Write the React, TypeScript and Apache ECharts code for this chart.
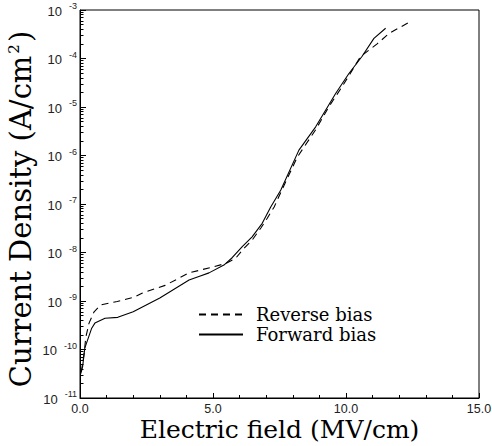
import React, { useEffect, useRef } from "react";
import * as echarts from "echarts";

const fieldReverse = [0.05, 0.15, 0.22, 0.34, 0.53, 0.78, 1.4, 2.03, 2.33, 3.2, 4.1, 4.97, 5.5, 5.85, 6.17, 6.47, 6.8, 7.04, 7.3, 7.6, 8.17, 8.86, 9.36, 9.85, 10.55, 11.17, 11.62, 12.43];
const currentReverse = [3.5e-11, 7.9e-11, 1.8e-10, 3.5e-10, 6.0e-10, 8.3e-10, 9.8e-10, 1.2e-9, 1.45e-9, 2.1e-9, 3.8e-9, 5.0e-9, 6.0e-9, 7.6e-9, 1.23e-8, 1.8e-8, 3.2e-8, 5.1e-8, 8.7e-8, 2.0e-7, 9.3e-7, 3.4e-6, 1.02e-5, 2.6e-5, 1.1e-4, 2.0e-4, 3.3e-4, 5.8e-4];

const fieldForward = [0.03, 0.1, 0.18, 0.44, 0.56, 0.94, 1.42, 2.0, 3.0, 4.1, 4.47, 4.85, 5.41, 5.72, 6.1, 6.47, 6.85, 7.17, 7.55, 8.23, 8.86, 9.61, 10.11, 10.6, 11.05, 11.49];
const currentForward = [3.2e-11, 4.5e-11, 1.07e-10, 2.75e-10, 3.5e-10, 4.4e-10, 4.6e-10, 6.0e-10, 1.15e-9, 2.7e-9, 3.2e-9, 3.8e-9, 5.5e-9, 7.8e-9, 1.32e-8, 2.1e-8, 4.0e-8, 8.7e-8, 1.95e-7, 1.29e-6, 3.9e-6, 1.9e-5, 4.9e-5, 1.1e-4, 2.6e-4, 4.2e-4];

const xTickLabels = ["0.0", "5.0", "10.0", "15.0"];
const yDecadeExponents = [-11, -10, -9, -8, -7, -6, -5, -4, -3];
const seriesNames = ["Reverse bias", "Forward bias"];

const minorYTicks: number[] = [];
for (let e = -11; e < -3; e++) {
  for (let m = 2; m <= 9; m++) minorYTicks.push(m * Math.pow(10, e));
}

export default function App() {
  const ref = useRef<HTMLDivElement>(null);
  useEffect(() => {
    if (!ref.current) return;
    const chart = echarts.init(ref.current, null, { renderer: "svg" });
    const serif = "DejaVu Serif";
    const sans = "Liberation Sans";
    chart.setOption({
      animation: false,
      backgroundColor: "#fff",
      grid: {
        left: 80,
        right: 13,
        top: 10,
        bottom: 48,
        show: true,
        borderColor: "#000",
        borderWidth: 1,
        containLabel: false,
        outerBoundsMode: "none",
      },
      legend: {
        orient: "vertical",
        left: 193,
        top: 300,
        itemWidth: 44,
        itemHeight: 12,
        itemGap: 1,
        data: seriesNames,
        itemStyle: { opacity: 0 },
        textStyle: {
          fontFamily: serif,
          fontSize: 18,
          lineHeight: 19,
          color: "#000",
          padding: [0, 0, 0, 8],
        },
      },
      xAxis: {
        type: "value",
        min: 0,
        max: 15,
        interval: 5,
        position: "bottom",
        name: "Electric field (MV/cm)",
        nameLocation: "middle",
        nameGap: 19,
        nameMoveOverlap: false,
        nameTextStyle: { fontFamily: serif, fontSize: 25, lineHeight: 25, color: "#000", verticalAlign: "top" },
        axisLine: { show: true, onZero: false, lineStyle: { color: "#000", width: 1 } },
        axisTick: { show: true, inside: true, length: 5, lineStyle: { color: "#000", width: 1 } },
        minorTick: { show: true, splitNumber: 5, length: 3, lineStyle: { color: "#000", width: 1 } },
        splitLine: { show: false },
        minorSplitLine: { show: false },
        axisLabel: {
          show: true,
          fontFamily: sans,
          fontSize: 12.5,
          lineHeight: 13,
          color: "#222",
          margin: 4,
          formatter: (v: number) => xTickLabels[Math.round(v / 5)] ?? v.toFixed(1),
        },
      },
      yAxis: [
        {
          type: "log",
          logBase: 10,
          min: 1e-11,
          max: 1e-3,
          position: "left",
          name: "Current Density (A/cm{sup|2})",
          nameLocation: "middle",
          nameGap: 44,
          nameMoveOverlap: false,
          nameRotate: 90,
          nameTextStyle: {
            fontFamily: serif,
            fontSize: 29,
            lineHeight: 30,
            color: "#000",
            padding: [0, 10, 0, 0],
            rich: {
              sup: { fontFamily: serif, fontSize: 15, lineHeight: 30, verticalAlign: "top", padding: [0, 2, 0, 2] },
            },
          },
          axisLine: { show: true, onZero: false, lineStyle: { color: "#000", width: 1 } },
          axisTick: { show: true, inside: true, length: 6, lineStyle: { color: "#000", width: 1 } },
          splitLine: { show: false },
          minorTick: { show: false },
          axisLabel: {
            show: true,
            margin: 3,
            formatter: (v: number) => {
              const e = Math.round(Math.log10(v));
              if (!yDecadeExponents.includes(e)) return "";
              return "{b|10}{s|" + e + "}";
            },
            rich: {
              b: { fontFamily: sans, fontSize: 13, color: "#222", lineHeight: 16, padding: [2, 0, 0, 0] },
              s: { fontFamily: sans, fontSize: 9, color: "#222", lineHeight: 16, padding: [0, 0, 8, 7] },
            },
          },
        },
        {
          type: "log",
          logBase: 10,
          min: 1e-11,
          max: 1e-3,
          position: "left",
          axisLine: { show: false },
          axisLabel: { show: false },
          splitLine: { show: false },
          axisTick: {
            show: true,
            inside: true,
            length: 3.5,
            customValues: minorYTicks,
            lineStyle: { color: "#000", width: 1 },
          },
        },
      ],
      series: [
        {
          name: seriesNames[0],
          type: "line",
          symbol: "none",
          yAxisIndex: 0,
          lineStyle: { color: "#000", width: 1.1, type: [7, 5] },
          itemStyle: { color: "#000" },
          data: fieldReverse.map((x, i) => [x, currentReverse[i]]),
        },
        {
          name: seriesNames[1],
          type: "line",
          symbol: "none",
          yAxisIndex: 0,
          lineStyle: { color: "#000", width: 1.1, type: "solid" },
          itemStyle: { color: "#000" },
          data: fieldForward.map((x, i) => [x, currentForward[i]]),
        },
      ],
    });
    return () => chart.dispose();
  }, []);
  return (
    <div
      ref={ref}
      style={{ position: "absolute", left: 0, top: 0, width: 492, height: 446 }}
    />
  );
}
